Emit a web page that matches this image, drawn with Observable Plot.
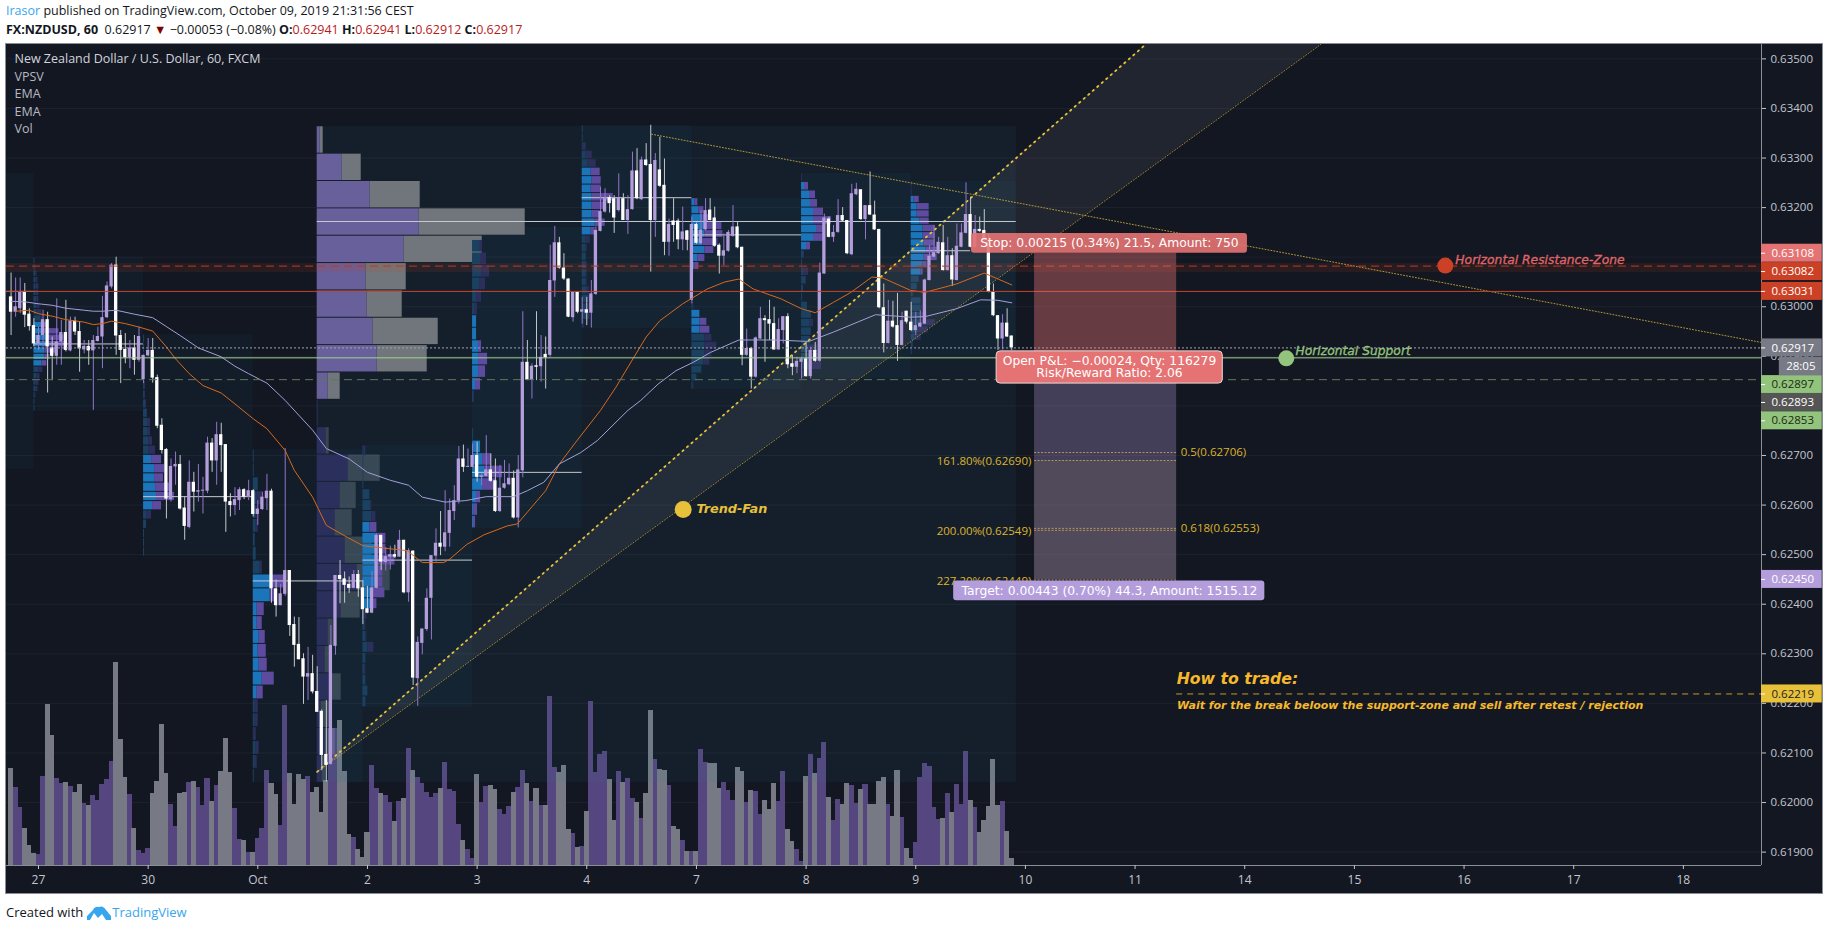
<!DOCTYPE html>
<html><head><meta charset="utf-8">
<style>
html,body{margin:0;padding:0;background:#fff;width:1828px;height:930px;overflow:hidden;font-family:"Open Sans",sans-serif;color:#131722}
#h1,#h2,#foot{position:absolute;left:6px;white-space:nowrap;font-size:12.5px}
#h1{top:2px}#h2{top:21px;font-size:12.5px}
#h1 b,#foot b{font-weight:400;color:#37a6ef}
#h2 .s{font-weight:700}#h2 i{font-style:normal;color:#b71c1c}#h2 u{text-decoration:none;color:#7f0000}
#chart{position:absolute;left:6px;top:44px;width:1816px;height:849px;outline:1px solid #8a8d96}
#chart svg{display:block}
#foot{top:903px;font-size:13px;display:flex;align-items:center}
#foot svg{margin:0 1px 0 4px}
</style></head><body>
<div id="h1"><b>Irasor</b> published on TradingView.com, October 09, 2019 21:31:56 CEST</div>
<div id="h2"><span class="s">FX:NZDUSD, 60</span>&nbsp; 0.62917 <u>▼</u> −0.00053 (−0.08%) <span class="s">O:</span><i>0.62941</i> <span class="s">H:</span><i>0.62941</i> <span class="s">L:</span><i>0.62912</i> <span class="s">C:</span><i>0.62917</i></div>
<div id="chart"></div>
<div id="foot">Created with<svg width="24" height="15" viewBox="0 0 24 15"><path d="M0 15 L0 11 L6 5 Q8 1 12 2 Q16 0 19 5 L24 11 L24 15 L19 15 L15 9 L11 13 L7 8 L3 15Z" fill="#37a6ef"/></svg><b>TradingView</b></div>
<script src="https://cdn.jsdelivr.net/npm/d3@7"></script>
<script src="https://cdn.jsdelivr.net/npm/@observablehq/plot@0.6"></script>
<script>
// ---- candles: bars -6..213, prices in 1e-5 units
const firstBar = -6;
const opens = [63020,62989,62996,63030,62985,62962,62925,62942,62974,62917,62900,62929,62948,62911,62971,62950,62913,62920,62911,62930,62939,62978,63040,63084,62942,62914,62897,62917,62892,62853,62901,62912,62857,62761,62712,62611,62677,62682,62594,62555,62646,62626,62628,62628,62725,62689,62742,62722,62607,62599,62609,62631,62617,62629,62581,62591,62613,62628,62431,62397,62420,62468,62359,62319,62290,62253,62260,62224,62184,62097,62077,62315,62458,62451,62440,62432,62460,62433,62391,62382,62432,62539,62484,62495,62500,62495,62529,62423,62507,62250,62321,62349,62412,62497,62523,62515,62543,62587,62608,62693,62676,62676,62700,62656,62658,62671,62649,62587,62634,62641,62654,62574,62669,62888,62852,62881,62879,62904,62902,63052,63129,63078,63056,62978,63029,62989,62994,62987,63025,63152,63191,63220,63218,63194,63218,63174,63196,63274,63216,63296,63287,63174,63276,63245,63130,63173,63173,63135,63153,63013,63166,63127,63155,63195,63179,63124,63102,63112,63142,63161,63120,62902,62916,62858,62935,62976,62974,62966,62913,62952,62980,62885,62878,62888,62895,62859,62912,62890,63066,63177,63140,63150,63184,63174,63105,63226,63236,63176,63204,63185,63156,62998,62926,62971,62962,62922,62991,62969,62952,62959,62965,63053,63100,63107,63129,63073,63103,63053,63120,63148,63186,63120,63156,63154,63134,63029,62982,62935,62967,62941];
const closes = [62989,63000,63030,62983,62960,62925,62942,62974,62919,62900,62929,62948,62912,62971,62949,62915,62920,62911,62932,62940,62978,63042,63084,62941,62912,62897,62917,62892,62940,62902,62912,62856,62759,62710,62612,62678,62682,62592,62557,62646,62626,62629,62630,62725,62689,62742,62720,62606,62599,62611,62631,62616,62629,62581,62592,62616,62628,62431,62397,62421,62468,62357,62317,62288,62253,62260,62223,62182,62095,62075,62317,62458,62450,62438,62432,62460,62431,62389,62382,62433,62539,62485,62496,62500,62495,62529,62423,62508,62251,62323,62350,62412,62498,62523,62515,62544,62589,62609,62693,62676,62678,62700,62656,62659,62671,62648,62587,62634,62643,62654,62574,62671,62888,62852,62880,62878,62898,62897,63053,63129,63078,63056,62979,63029,62989,62994,62987,63026,63154,63192,63218,63208,63179,63220,63174,63196,63274,63218,63296,63285,63174,63295,63243,63130,63166,63164,63135,63151,63134,63166,63128,63155,63194,63174,63122,63102,63113,63150,63161,63119,62902,62916,62858,62937,62976,62972,62965,62913,62954,62980,62883,62878,62890,62895,62859,62912,62890,63068,63179,63140,63150,63184,63173,63107,63228,63237,63176,63204,63185,63155,62998,62926,62971,62959,62922,62972,62969,62952,62962,62967,63054,63102,63109,63130,63073,63103,63054,63122,63149,63186,63120,63156,63152,63134,63029,62982,62935,62967,62939,62917];
const highs = [63068,63058,63058,63047,62996,62976,62959,62993,62989,62939,63016,62973,63013,62979,62979,62969,62932,62932,62942,62959,63021,63050,63087,63100,62952,62946,62932,62942,62959,62902,62936,62936,62862,62774,62714,62693,62707,62700,62616,62689,62666,62682,62656,62737,62734,62767,62765,62722,62623,62635,62635,62633,62650,62631,62609,62626,62662,62632,62449,62440,62714,62468,62374,62373,62300,62313,62297,62274,62187,62206,62357,62458,62488,62465,62455,62468,62468,62448,62436,62466,62542,62539,62514,62517,62519,62549,62529,62512,62508,62334,62350,62431,62498,62552,62587,62629,62612,62639,62718,62721,62713,62723,62727,62663,62740,62703,62693,62680,62690,62683,62669,62700,62990,62932,62885,62990,62942,62939,63124,63162,63140,63107,63056,63029,63029,63019,63019,63053,63161,63241,63238,63224,63224,63268,63228,63224,63312,63319,63302,63329,63366,63309,63342,63298,63177,63218,63177,63201,63154,63181,63169,63194,63218,63218,63201,63127,63147,63154,63204,63171,63120,62955,62918,62939,62999,62982,63013,62999,62976,62980,62986,62902,62898,62898,62928,62918,62928,63088,63187,63181,63164,63216,63200,63174,63247,63249,63236,63204,63272,63213,63156,63046,63013,63011,63027,62989,62991,63009,62989,62992,63056,63124,63164,63140,63164,63140,63117,63167,63167,63250,63221,63184,63181,63196,63147,63046,62982,62984,62996,62941];
const lows = [62942,62979,62986,62958,62951,62919,62912,62919,62826,62851,62882,62882,62909,62909,62942,62868,62905,62882,62791,62929,62875,62976,63036,62902,62845,62885,62875,62862,62888,62845,62899,62846,62754,62703,62572,62606,62640,62590,62529,62552,62586,62606,62582,62623,62666,62640,62666,62545,62576,62579,62589,62611,62609,62576,62559,62589,62589,62402,62374,62397,62416,62335,62273,62288,62198,62206,62219,62182,62064,62041,62075,62297,62401,62402,62422,62431,62414,62359,62381,62381,62431,62468,62467,62469,62492,62495,62421,62404,62236,62194,62298,62345,62328,62485,62498,62506,62515,62569,62602,62666,62676,62676,62646,62639,62656,62646,62585,62585,62632,62639,62572,62554,62655,62851,62814,62851,62848,62834,62898,63019,63076,63053,62978,62969,62986,62965,62962,62957,63023,63151,63189,63189,63148,63191,63174,63146,63195,63216,63214,63283,63070,63140,63241,63103,63102,63130,63115,63113,63113,63006,63126,63125,63153,63173,63120,63066,63083,63110,63140,63117,62881,62900,62834,62856,62934,62888,62932,62912,62912,62925,62875,62861,62865,62854,62858,62854,62888,62888,63066,63139,63130,63148,63171,63105,63103,63224,63174,63135,63184,63154,62996,62907,62925,62957,62890,62921,62965,62950,62942,62958,62964,63052,63099,63106,63072,63072,63041,63052,63119,63147,63119,63119,63150,63132,63028,62980,62912,62913,62938,62912];
const volumes = [290,233,175,110,60,37,33,267,483,390,260,245,249,237,219,243,186,180,209,195,243,259,312,609,378,265,213,110,45,36,50,215,252,423,276,183,118,215,218,249,252,233,180,260,193,240,283,380,280,170,77,75,39,39,80,110,285,245,213,120,480,275,183,273,259,267,220,233,160,255,410,410,435,282,93,83,48,25,98,300,232,215,210,190,132,193,202,350,285,265,245,219,205,215,232,309,228,222,123,75,48,22,273,189,237,240,228,168,153,177,218,235,285,245,192,231,180,180,507,295,280,300,108,95,53,58,162,492,280,333,342,259,135,282,250,261,202,190,141,216,465,318,288,285,240,118,108,75,42,42,42,348,309,306,306,232,249,225,195,293,282,189,225,222,153,195,168,246,192,282,108,72,48,12,267,333,276,321,369,204,135,198,183,246,240,186,228,243,183,183,252,264,183,147,285,144,51,21,69,264,306,297,174,138,141,216,159,243,183,342,195,174,99,135,177,318,180,192,102,21];

// ---- EMAs [bar, price]
const emaFastBars = [-5,-2,0,3,6,10,12,14,16,19,22,25,28,30,33,36,40,43,47,50,54,56,60,63,67.6,71,80.7,84,88.7,90,93.8,97.5,102.6,104.8,111,114,117.6,123,126.4,130.3,133,136,141,146.4,150.2,153.3,156.4,162.5,167,170,174,177.8,182.4,184.8,190.9,194,200.9,207,213];
const emaFastVals = [62991,62993,62986,62981,62974,62969,62964,62966,62971,62966,62959,62951,62919,62895,62865,62841,62826,62804,62774,62754,62710,62670,62616,62559,62535,62518,62508,62484,62484,62491,62521,62540,62558,62562,62629,62683,62727,62791,62838,62898,62939,62972,63006,63036,63050,63056,63036,63016,62996,62988,63009,63029,63060,63058,63033,63029,63046,63068,63044];
const emaSlowBars = [-6,-3,0,3,6,10,12,14,17,21,25,28,31,35,40,43,46,50,54,60,63,68,72,77,81,84,89,93.5,98,104,107,110.6,114,118.7,122.3,129,131.8,135.6,139.5,143.3,147.1,153.3,161,168.6,174,183.2,190.9,194,200.9,206.2,210,213];
const emaSlowVals = [63011,63010,63006,63003,62997,62993,62991,62991,62993,62985,62978,62960,62942,62917,62899,62880,62865,62846,62811,62751,62714,62693,62666,62650,62640,62616,62606,62609,62617,62617,62629,62646,62683,62706,62730,62791,62811,62844,62871,62888,62908,62933,62933,62930,62949,62984,62979,62980,62996,63014,63013,63008];

// ---- session boxes: start, end, top, bottom
const boxStart = [-7,-1,23,47,71,95,119,143,167,191];
const boxEnd   = [-1,23,47,71,95,119,143,167,191,214];
const boxTop   = [63269,63099,62944,62712,62720,63160,63366,63219,63269,63253];
const boxBot   = [62672,62789,62496,62040,62192,62553,62956,62833,62855,62902];
// point of control lines
const pocStart = [-7,-1,23,47,61,71,95,119,143,167,191];
const pocEnd   = [-1,23,47,71,214,95,119,143,167,191,204];
const pocVal   = [63031,62925,62617,62447,63172,62489,62666,63220,63145,63172,63113];

// ---- session volume profiles (24 rows, up volume and total volume)
const bigUp  = [3,25,53,102,87,49,50,56,60,11,1,9,31,23,18,28,40,24,11,8,15,4,8,5];
const bigAll = [6,44,103,208,165,89,85,121,110,23,1,12,63,39,35,55,73,43,16,13,24,13,18,9];
const bigBright = [[0,9]];
const vpBUp  = [1,1,2,2,2,2,3,3,3,7,8,9,12,13,11,11,8,5,3,2,2,1,1,1];
const vpBAll = [1,2,3,4,5,5,5,6,8,9,15,25,30,31,22,16,13,9,6,5,4,2,1,1];
const vpCUp  = [1,1,1,1,1,1,1,2,3,4,4,5,5,8,11,11,12,13,9,3,3,1,1,1];
const vpCAll = [1,1,1,1,1,2,2,3,4,7,7,9,12,18,21,20,28,31,18,8,3,1,1,1];
const vpDUp  = [1,1,5,4,3,3,2,3,7,19,17,4,4,6,5,6,9,4,2,2,1,3,2,1];
const vpDAll = [1,1,5,9,4,5,2,3,9,31,22,11,9,12,13,14,21,10,5,5,3,6,4,1];
const vpFUp  = [1,1,1,1,7,8,9,7,15,14,15,13,15,10,10,2,2,3,5,3,2,3,5,3];
const vpFAll = [3,1,1,1,7,9,13,14,23,23,32,20,20,22,14,4,3,4,11,3,3,3,5,3];
const vpGUp  = [0,7,8,9,7,4,2,4,4,6,6,6,3,1,0,0,1,8,10,12,10,4,1,1];
const vpGAll = [0,10,14,17,13,9,5,4,4,9,15,13,8,2,0,0,1,8,19,30,24,8,5,3];
const vpHUp  = [1,1,1,4,6,9,10,9,10,10,10,13,9,4,4,4,4,4,4,5,7,6,5,1];
const vpHAll = [1,1,4,10,14,18,19,19,31,23,18,23,13,8,5,4,5,5,5,7,11,9,8,2];
const vpIUp  = [3,7,11,13,13,11,13,6,3,1,1,1,1,1,8,8,8,13,13,13,12,10,5,1];
const vpIAll = [6,12,17,30,31,26,22,13,7,2,1,1,1,2,8,15,18,20,25,20,18,10,5,2];
const vpJUp  = [0,3,8,9,12,12,15,12,5,2,1,2,4,2,1,6,10,8,9,8,7,7,9,2];
const vpJAll = [1,7,14,16,22,30,24,22,9,3,1,7,5,2,1,6,10,12,10,9,16,19,20,3];
const vpKUp  = [0,0,3,6,6,9,12,12,13,15,13,12,10,8,6,2,10,10,10,10,8,4,2,1];
const vpKAll = [1,1,8,18,18,18,24,24,24,26,26,16,12,8,6,2,10,11,16,24,17,10,2,1];
const vpBBright=[[10,16]], vpCBright=[[13,18]], vpDBright=[[9,17]], vpFBright=[[7,14]], vpGBright=[[7,12],[17,23]], vpHBright=[[5,12]], vpIBright=[[0,8],[14,16]], vpJBright=[[1,8]], vpKBright=[[2,12]];

// ---- axes
const yTicks = [0.635,0.634,0.633,0.632,0.631,0.63,0.629,0.628,0.627,0.626,0.625,0.624,0.623,0.622,0.621,0.62,0.619];
const yHiddenTick = 0.631;
const xTicks = [0,24,48,72,96,120,144,168,192,216,240,264,288,312,336,360];
const xLabels = ["27","30","Oct","2","3","4","7","8","9","10","11","14","15","16","17","18"];

// ---- price tags on the right
const tagText = ["0.63108","0.63082","0.63031","0.62917","0.62897","0.62893","0.62853","0.62450","0.62219"];
const tagSlot = [63108,63071,63031,62917,62843,62807,62770,62450,62219];
const tagFill = ["#e57373","#cc4125","#cc4125","#787b86","#93c47d","#555555","#93c47d","#b39ddb","#e8c13a"];
const tagInk  = ["#fff","#fff","#fff","#fff","#1a2a12","#fff","#1a2a12","#fff","#222"];

// ---- position tool
const stopPrice = 0.63108, entryPrice = 0.62893, targetPrice = 0.62449;
const fibLeft = ["161.80%(0.62690)","200.00%(0.62549)","227.20%(0.62449)"];
const fibLeftVal = [0.6269,0.62549,0.62449];
const fibRight = ["0.5(0.62706)","0.618(0.62553)"];
const fibRightVal = [0.62706,0.62553];

// ---- trend fan and resistance line
const fanBars = [61,242.3,280.6];
const fanUpper = [62062,63529,63529];
const fanLower = [62062,63273,63529];
const trendBars = [134.2,377.1];
const trendVals = [63348,62928];

// ---- layout of the scales
const xMin=-7, xAxis=377.1, xMax=390.4, yMin=0.61873, yMax=0.63529;
const pxPerBar=4.569, priceUnitPerVol=0.6727;
const P=v=>v/1e5;

const candles = opens.map((o,k)=>({i:firstBar+k,o:P(o),c:P(closes[k]),h:P(highs[k]),l:P(lows[k]),v:volumes[k],up:closes[k]>=o}));
const ups=candles.filter(d=>d.up), downs=candles.filter(d=>!d.up);
const pairs=(a,b)=>a.map((v,k)=>({i:v,p:P(b[k])}));
const boxes=boxStart.map((s,k)=>({s,e:boxEnd[k],t:P(boxTop[k]),b:P(boxBot[k])}));
function profile(s,t,b,up,all,bright){
  const h=(t-b)/24;
  return up.map((u,k)=>({s,up:s+u/pxPerBar,all:s+all[k]/pxPerBar,t:P(t-h*k),b:P(t-h*(k+1)),lit:bright.some(r=>k>=r[0]&&k<=r[1])}));
}
const big=profile(61,63364,62040,bigUp,bigAll,bigBright);
const rows=[
 profile(-1,63099,62789,vpBUp,vpBAll,vpBBright),
 profile(23,62944,62496,vpCUp,vpCAll,vpCBright),
 profile(47,62712,62040,vpDUp,vpDAll,vpDBright),
 profile(71,62720,62192,vpFUp,vpFAll,vpFBright),
 profile(95,63160,62553,vpGUp,vpGAll,vpGBright),
 profile(119,63366,62956,vpHUp,vpHAll,vpHBright),
 profile(143,63219,62833,vpIUp,vpIAll,vpIBright),
 profile(167,63269,62855,vpJUp,vpJAll,vpJBright),
 profile(191,63253,62902,vpKUp,vpKAll,vpKBright)
].flat();
const rLit=rows.filter(d=>d.lit), rDim=rows.filter(d=>!d.lit);
const bigLit=big.filter(d=>d.lit), bigDim=big.filter(d=>!d.lit);
const rowRect=(data,x1,x2,fill,opacity=1)=>Plot.rect(data,{x1,x2,y1:"b",y2:"t",fill,fillOpacity:opacity,insetTop:.5,insetBottom:.5});
const tags=tagText.map((t,k)=>({t,y:P(tagSlot[k]),f:tagFill[k],ink:tagInk[k]}));
const sans='"Open Sans",sans-serif', deja='"DejaVu Sans",sans-serif';
const hline=(v,o)=>Plot.ruleY([v],{x1:xMin,x2:xAxis,...o});
const one=[{}];

const chart=Plot.plot({
  width:1816,height:849,marginLeft:0,marginRight:61,marginTop:0,marginBottom:28,
  x:{domain:[xMin,xAxis]},y:{domain:[yMin,yMax]},color:{type:"identity"},
  style:{background:"#131722",fontFamily:sans,overflow:"visible"},
  marks:[
    Plot.ruleY(yTicks,{x1:xMin,x2:xAxis,stroke:"#1e222d"}),
    // volume
    Plot.rect(ups,{x1:d=>d.i-.56,x2:d=>d.i+.56,y1:yMin,y2:d=>yMin+P(d.v*priceUnitPerVol),fill:"#56467f",shapeRendering:"crispEdges"}),
    Plot.rect(downs,{x1:d=>d.i-.56,x2:d=>d.i+.56,y1:yMin,y2:d=>yMin+P(d.v*priceUnitPerVol),fill:"#777a84",shapeRendering:"crispEdges"}),
    // big session box and the smaller ones
    Plot.rect(one,{x1:61,x2:214,y1:P(62040),y2:P(63364),fill:"#2a7f9f",fillOpacity:.09}),
    Plot.rect(boxes,{x1:"s",x2:"e",y1:"b",y2:"t",fill:"#2a7f9f",fillOpacity:.06}),
    // long profile
    rowRect(bigLit,"s","up","#67609b"),
    rowRect(bigLit,"up","all","#70767b"),
    rowRect(bigDim,"s","up","#2b2f5b"),
    rowRect(bigDim,"up","all","#8a9aa5",.3),
    // session profiles
    rowRect(rLit,"s","up","#1b75bb"),
    rowRect(rLit,"up","all","#5e4ba0"),
    rowRect(rDim,"s","up","#1b4161"),
    rowRect(rDim,"up","all","#2c2f5c"),
    // resistance band
    Plot.rect(one,{x1:xMin,x2:xAxis,y1:P(63069),y2:P(63087),fill:"#cc4125",fillOpacity:.12}),
    // fan
    Plot.areaY(fanBars.map((b,k)=>({i:b,a:P(fanLower[k]),b:P(fanUpper[k])})),{x:"i",y1:"a",y2:"b",fill:"#c8ccd4",fillOpacity:.08}),
    Plot.line([0,1].map(k=>({i:fanBars[k],p:P(fanUpper[k])})),{x:"i",y:"p",stroke:"#e8c13a",strokeWidth:1.8,strokeDasharray:"1.4 4.6"}),
    Plot.line([0,2].map(k=>({i:fanBars[k],p:P(fanLower[k])})),{x:"i",y:"p",stroke:"#d8b83a",strokeWidth:1,strokeOpacity:.7,strokeDasharray:"1 2"}),
    // POC
    Plot.ruleY(pocVal.map((v,k)=>({s:pocStart[k],e:pocEnd[k],y:P(v)})),{x1:"s",x2:"e",y:"y",stroke:"#c6c9cf",strokeWidth:1}),
    // wicks and bodies
    Plot.ruleX(ups,{x:"i",y1:"l",y2:"h",stroke:"#9575cd"}),
    Plot.ruleX(downs,{x:"i",y1:"l",y2:"h",stroke:"#c5c8ce"}),
    Plot.rect(ups,{x1:d=>d.i-.36,x2:d=>d.i+.36,y1:"o",y2:"c",fill:"#b39ddb"}),
    Plot.rect(downs,{x1:d=>d.i-.36,x2:d=>d.i+.36,y1:"o",y2:"c",fill:"#ffffff"}),
    // EMA lines
    Plot.line(pairs(emaFastBars,emaFastVals),{x:"i",y:"p",stroke:"#d9691a",strokeWidth:1}),
    Plot.line(pairs(emaSlowBars,emaSlowVals),{x:"i",y:"p",stroke:"#a49fd6",strokeWidth:1}),
    // trend line and horizontal levels
    Plot.line(trendBars.map((b,k)=>({i:b,p:P(trendVals[k])})),{x:"i",y:"p",stroke:"#d8b83a",strokeWidth:1,strokeDasharray:"1 2",strokeOpacity:.8}),
    hline(0.63082,{stroke:"#b83c24",strokeDasharray:"8 5",strokeWidth:1}),
    hline(0.63031,{stroke:"#c8452b",strokeWidth:1}),
    hline(0.62917,{stroke:"#a0a3ac",strokeDasharray:"2 2",strokeWidth:1}),
    hline(0.62897,{stroke:"#a5d08f",strokeWidth:1}),
    hline(0.62853,{stroke:"#5c7a5a",strokeDasharray:"8 5",strokeWidth:1}),
    Plot.ruleY([0.62219],{x1:249.1,x2:xAxis,stroke:"#c79a22",strokeDasharray:"6 5",strokeWidth:1}),
    // position tool
    Plot.rect(one,{x1:218,x2:249.1,y1:entryPrice,y2:stopPrice,fill:"#e57373",fillOpacity:.4}),
    Plot.rect(one,{x1:218,x2:249.1,y1:targetPrice,y2:entryPrice,fill:"#b39ddb",fillOpacity:.3}),
    Plot.rect(one,{x1:218,x2:249.1,y1:targetPrice,y2:0.6269,fill:"#c8b070",fillOpacity:.1}),
    Plot.ruleY([...fibLeftVal,...fibRightVal],{x1:218,x2:249.1,stroke:"#d9ab5c",strokeOpacity:.75,strokeDasharray:"2 1.5"}),
    Plot.text(fibLeft.map((t,k)=>({t,p:fibLeftVal[k]})),{x:217.3,y:"p",text:"t",textAnchor:"end",fill:"#dcb42e",fontSize:11.5,fontFamily:sans,dy:1}),
    Plot.text(fibRight.map((t,k)=>({t,p:fibRightVal[k]})),{x:250,y:"p",text:"t",textAnchor:"start",fill:"#dcb42e",fontSize:11.5,fontFamily:sans}),
    // position labels
    Plot.rect(one,{x1:204.2,x2:264.6,y1:P(63108),y2:P(63148),fill:"#e57373",fillOpacity:.9,rx:3}),
    Plot.text(["Stop: 0.00215 (0.34%) 21.5, Amount: 750"],{x:234.4,y:P(63128),fill:"#fff",fontSize:12.3,fontFamily:deja}),
    Plot.rect(one,{x1:209.7,x2:259.2,y1:P(62845),y2:P(62910),fill:"#e57373",stroke:"#e8d8da",rx:4}),
    Plot.text(["Open P&L: −0.00024, Qty: 116279\nRisk/Reward Ratio: 2.06"],{x:234.4,y:P(62878),fill:"#fff",fontSize:12.3,lineHeight:1,fontFamily:deja}),
    Plot.rect(one,{x1:200.3,x2:268.4,y1:P(62407),y2:P(62447),fill:"#b39ddb",rx:3}),
    Plot.text(["Target: 0.00443 (0.70%) 44.3, Amount: 1515.12"],{x:234.4,y:P(62427),fill:"#fff",fontSize:12.3,fontFamily:deja}),
    // annotations
    Plot.dot(one,{x:141.1,y:P(62591),r:8.5,fill:"#e8c13a"}),
    Plot.text(["Trend-Fan"],{x:144,y:P(62593),textAnchor:"start",fill:"#e8c13a",fontSize:12.8,fontWeight:700,fontStyle:"italic",fontFamily:deja}),
    Plot.dot(one,{x:307.9,y:P(63083),r:8,fill:"#cc4125"}),
    Plot.text(["Horizontal Resistance-Zone"],{x:310.1,y:P(63095),textAnchor:"start",fill:"#e06666",stroke:"#e06666",strokeWidth:.3,fontSize:12.3,fontStyle:"italic",fontFamily:deja}),
    Plot.dot(one,{x:273.1,y:P(62896),r:8,fill:"#93c47d"}),
    Plot.text(["Horizontal Support"],{x:275.1,y:P(62910),textAnchor:"start",fill:"#93c47d",stroke:"#93c47d",strokeWidth:.3,fontSize:12.3,fontStyle:"italic",fontFamily:deja}),
    Plot.text(["How to trade:"],{x:249.1,y:P(62250),textAnchor:"start",fill:"#f6b92b",fontSize:15.7,fontStyle:"italic",fontWeight:700,fontFamily:deja}),
    Plot.text(["Wait for the break beloow the support-zone and sell after retest / rejection"],{x:249.2,y:P(62195),textAnchor:"start",fill:"#f6b92b",fontSize:11,fontStyle:"italic",fontWeight:700,fontFamily:deja}),
    // pane legend
    Plot.text(["New Zealand Dollar / U.S. Dollar, 60, FXCM"],{frameAnchor:"top-left",dx:8,dy:10,textAnchor:"start",fill:"#d1d4dc",fontSize:12.5,fontWeight:500,fontFamily:sans}),
    Plot.text(["VPSV"],{frameAnchor:"top-left",dx:8,dy:28,textAnchor:"start",fill:"#b6b9c2",fontSize:12.5}),
    Plot.text(["EMA"],{frameAnchor:"top-left",dx:8,dy:45,textAnchor:"start",fill:"#b6b9c2",fontSize:12.5}),
    Plot.text(["EMA"],{frameAnchor:"top-left",dx:8,dy:63,textAnchor:"start",fill:"#b6b9c2",fontSize:12.5}),
    Plot.text(["Vol"],{frameAnchor:"top-left",dx:8,dy:80,textAnchor:"start",fill:"#b6b9c2",fontSize:12.5}),
    // axes
    Plot.ruleX([xAxis],{stroke:"#8a8d96"}),
    Plot.ruleY([yMin],{x1:xMin,x2:xAxis,stroke:"#8a8d96"}),
    Plot.axisY({anchor:"right",ticks:yTicks,tickFormat:d=>d===yHiddenTick?"":d.toFixed(5),tickSize:4,tickPadding:5,fontSize:11.5,color:"#c3c6cf",label:null}),
    Plot.axisX({anchor:"bottom",ticks:xTicks,tickFormat:i=>xLabels[xTicks.indexOf(i)],tickSize:4,tickPadding:6,fontSize:12,color:"#c3c6cf",label:null}),
    // price tags
    Plot.rect(tags,{x1:xAxis,x2:xMax,y1:d=>d.y-P(18.16),y2:d=>d.y+P(18.16),fill:"f"}),
    Plot.ruleY(tags,{x1:xAxis,x2:xAxis+.9,y:"y",stroke:"#fff"}),
    Plot.text(tags,{x:xAxis,dx:10,y:"y",text:"t",textAnchor:"start",fill:"ink",fontSize:11.5,fontWeight:500}),
    Plot.rect(one,{x1:381,x2:xMax,y1:P(62861),y2:P(62898),fill:"#787b86"}),
    Plot.text(["28:05"],{x:385.7,y:P(62880),fill:"#fff",fontSize:11.5,fontWeight:500})
  ]
});
document.getElementById("chart").appendChild(chart);
</script>
</body></html>
